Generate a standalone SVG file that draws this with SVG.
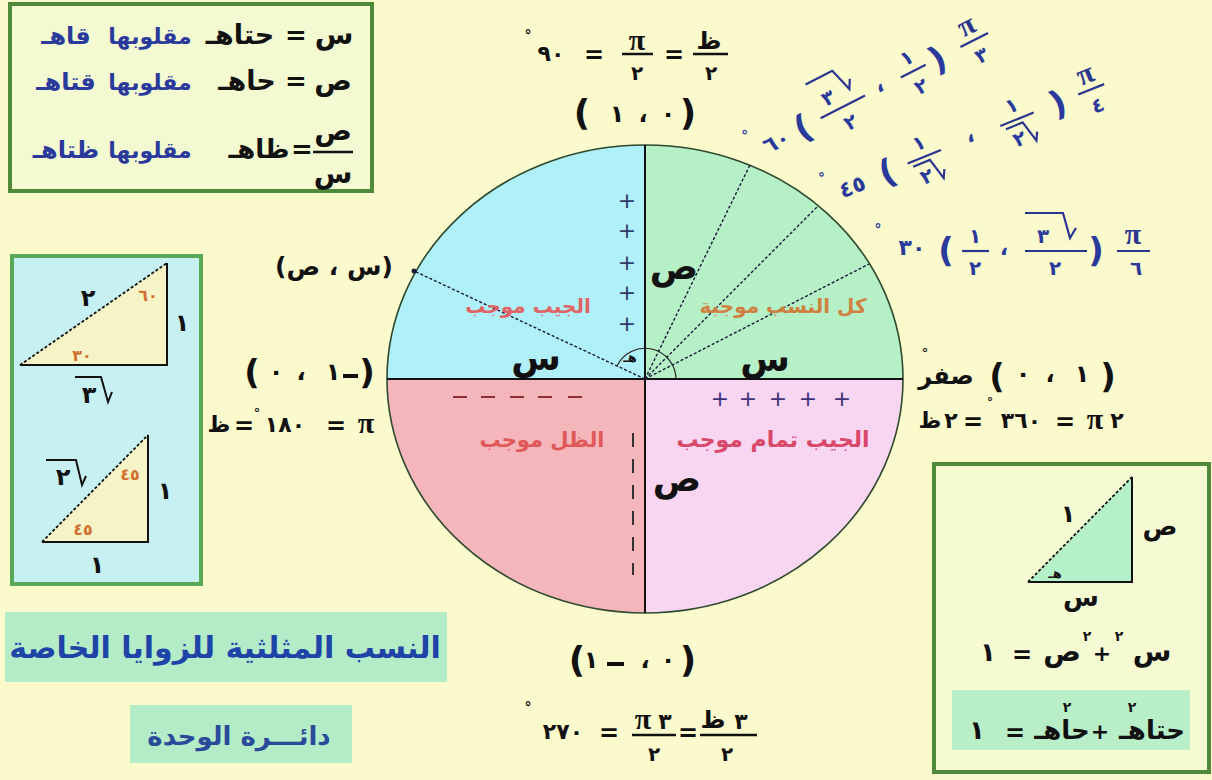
<svg xmlns="http://www.w3.org/2000/svg" width="1212" height="780" viewBox="0 0 1212 780">
<style>
.t{font-family:"DejaVu Sans",sans-serif;font-weight:bold;text-anchor:middle;fill:#111}
.b{fill:#2a3a9c}
.o{unicode-bidi:bidi-override;direction:ltr}
.pi{font-family:"Liberation Serif",serif;font-weight:bold;text-anchor:middle;fill:#111}
.ln{stroke:#111;stroke-width:2.5;fill:none}
.bl{stroke:#2a3590;stroke-width:2.2;fill:none}
.dot{stroke:#1a1a3a;stroke-width:1.4;stroke-dasharray:3 2;fill:none}
.leg{stroke:#111;stroke-width:2;fill:none}
</style>
<rect width="1212" height="780" fill="#fafacd"/>

<g id="unit-circle">
<path d="M645,379 L387,379 A258,234 0 0 1 645,145 Z" fill="#b0f0f8"/>
<path d="M645,379 L645,145 A258,234 0 0 1 903,379 Z" fill="#b6f0c6"/>
<path d="M645,379 L903,379 A258,234 0 0 1 645,613 Z" fill="#f8d6f2"/>
<path d="M645,379 L645,613 A258,234 0 0 1 387,379 Z" fill="#f4b6ba"/>
<ellipse cx="645" cy="379" rx="258" ry="234" fill="none" stroke="#2e4a2e" stroke-width="1.6"/>
</g>

<g id="connectors">
<line x1="387" y1="379" x2="903" y2="379" stroke="#111" stroke-width="2"/>
<line x1="645" y1="145" x2="645" y2="613" stroke="#111" stroke-width="2"/>
<line class="dot" x1="645" y1="379" x2="750" y2="165"/>
<line class="dot" x1="645" y1="379" x2="818" y2="206"/>
<line class="dot" x1="645" y1="379" x2="869" y2="264"/>
<line class="dot" x1="645" y1="379" x2="414" y2="271"/>
<circle cx="414" cy="271" r="2.5" fill="#1a1a3a"/>
<path d="M676,379 A31,31 0 0 0 617,366" fill="none" stroke="#222" stroke-width="1.2"/>
<line x1="633" y1="433" x2="633" y2="575" stroke="#333" stroke-width="2" stroke-dasharray="14 12"/>
</g>

<g id="quadrant-labels">
<text class="t" x="674" y="279" font-size="36">ص</text>
<text class="t" x="536" y="370" font-size="36">س</text>
<text class="t" x="765" y="371" font-size="36">س</text>
<text class="t" x="677" y="491" font-size="36">ص</text>
<text class="t" x="630" y="362" font-size="13">هـ</text>
<text class="t" x="528" y="313" font-size="20" style="fill:#e06464">الجيب موجب</text>
<text class="t" x="783" y="313" font-size="20" style="fill:#d08040">كل النسب موجبة</text>
<text class="t" x="542" y="447" font-size="21" style="fill:#e05858">الظل موجب</text>
<text class="t" x="773" y="447" font-size="22" style="fill:#d84868">الجيب تمام موجب</text>
<g font-family="DejaVu Sans" font-size="22" fill="#333a6a" text-anchor="middle">
<text x="627" y="208">+</text><text x="627" y="238">+</text><text x="627" y="270">+</text><text x="627" y="300">+</text><text x="627" y="331">+</text>
</g>
<g font-family="DejaVu Sans" font-size="22" fill="#40307a" text-anchor="middle">
<text x="720" y="406">+</text><text x="748" y="406">+</text><text x="778" y="406">+</text><text x="808" y="406">+</text><text x="842" y="406">+</text>
</g>
<g stroke="#8a3030" stroke-width="2">
<line x1="453" y1="397" x2="467" y2="397"/><line x1="481" y1="397" x2="495" y2="397"/><line x1="510" y1="397" x2="524" y2="397"/><line x1="538" y1="397" x2="552" y2="397"/><line x1="568" y1="397" x2="582" y2="397"/>
</g>
</g>

<g id="label-90">
<text class="t" x="528" y="40" font-size="14">°</text>
<text class="t" x="551" y="61" font-size="22">٩٠</text>
<text class="t" x="594" y="63" font-size="24">=</text>
<text class="pi" x="637" y="50" font-size="30">π</text>
<line class="ln" x1="622" y1="54" x2="653" y2="54"/>
<text class="t" x="637" y="80" font-size="20">٢</text>
<text class="t" x="674" y="63" font-size="24">=</text>
<text class="t" x="709" y="49" font-size="24">ظ</text>
<line class="ln" x1="693" y1="54" x2="728" y2="54"/>
<text class="t" x="711" y="80" font-size="20">٢</text>
<text class="t o" x="582" y="125" font-size="36">(</text>
<text class="t" x="617" y="122" font-size="24">١</text>
<text class="t" x="643" y="122" font-size="24">،</text>
<text class="t" x="668" y="122" font-size="24">٠</text>
<text class="t o" x="688" y="125" font-size="36">)</text>
</g>

<g id="label-270">
<text class="t o" x="577" y="672" font-size="36">(</text>
<text class="t" x="591" y="668" font-size="24">١</text>
<line x1="607" y1="664" x2="624" y2="664" stroke="#111" stroke-width="4"/>
<text class="t" x="645" y="668" font-size="24">،</text>
<text class="t" x="668" y="668" font-size="24">٠</text>
<text class="t o" x="688" y="672" font-size="36">)</text>
<text class="t" x="528" y="712" font-size="14">°</text>
<text class="t" x="563" y="739" font-size="22">٢٧٠</text>
<text class="t" x="609" y="741" font-size="24">=</text>
<text class="pi" x="643" y="729" font-size="30">π</text>
<text class="t" x="665" y="729" font-size="22">٣</text>
<line class="ln" x1="632" y1="735" x2="676" y2="735"/>
<text class="t" x="654" y="761" font-size="20">٢</text>
<text class="t" x="688" y="741" font-size="24">=</text>
<text class="t" x="713" y="728" font-size="24">ظ</text>
<text class="t" x="741" y="729" font-size="22">٣</text>
<line class="ln" x1="700" y1="735" x2="757" y2="735"/>
<text class="t" x="727" y="761" font-size="20">٢</text>
</g>

<g id="label-180">
<text class="t o" x="252" y="384" font-size="34">(</text>
<text class="t" x="276" y="380" font-size="24">٠</text>
<text class="t" x="301" y="380" font-size="24">،</text>
<text class="t" x="333" y="380" font-size="24">١</text>
<line x1="343" y1="376" x2="358" y2="376" stroke="#111" stroke-width="4"/>
<text class="t o" x="367" y="384" font-size="34">)</text>
<text class="t" x="219" y="432" font-size="22">ظ</text>
<text class="t" x="244" y="434" font-size="24">=</text>
<text class="t" x="257" y="417" font-size="13">°</text>
<text class="t" x="285" y="432" font-size="22">١٨٠</text>
<text class="t" x="336" y="434" font-size="24">=</text>
<text class="pi" x="366" y="433" font-size="30">π</text>
<text class="t" x="334" y="275" font-size="25">(س ، ص)</text>
</g>

<g id="label-0">
<text class="t" x="925" y="357" font-size="13">°</text>
<text class="t" x="946" y="384" font-size="24">صفر</text>
<text class="t o" x="997" y="388" font-size="34">(</text>
<text class="t" x="1023" y="382" font-size="24">٠</text>
<text class="t" x="1050" y="382" font-size="24">،</text>
<text class="t" x="1082" y="382" font-size="24">١</text>
<text class="t o" x="1108" y="388" font-size="34">)</text>
<text class="t" x="930" y="428" font-size="22">ظ</text>
<text class="t" x="951" y="428" font-size="22">٢</text>
<text class="t" x="973" y="430" font-size="24">=</text>
<text class="t" x="990" y="406" font-size="12">°</text>
<text class="t" x="1021" y="428" font-size="22">٣٦٠</text>
<text class="t" x="1065" y="430" font-size="24">=</text>
<text class="pi" x="1095" y="429" font-size="30">π</text>
<text class="t" x="1117" y="428" font-size="22">٢</text>
</g>

<g id="label-30">
<text class="t b" x="878" y="234" font-size="14">°</text>
<text class="t b" x="912" y="255" font-size="22">٣٠</text>
<text class="t b o" x="946" y="262" font-size="34">(</text>
<text class="t b" x="975" y="243" font-size="20">١</text>
<line class="bl" x1="962" y1="251" x2="989" y2="251"/>
<text class="t b" x="975" y="275" font-size="20">٢</text>
<text class="t b" x="1004" y="255" font-size="22">،</text>
<text class="t b" x="1043" y="243" font-size="20">٣</text>
<polyline class="bl" points="1025,213 1063,213 1070,238 1076,228"/>
<line class="bl" x1="1025" y1="251" x2="1087" y2="251"/>
<text class="t b" x="1055" y="275" font-size="20">٢</text>
<text class="t b o" x="1096" y="262" font-size="34">)</text>
<text class="pi" x="1133" y="244" font-size="30" style="fill:#2a3590">π</text>
<line class="bl" x1="1117" y1="251" x2="1150" y2="251"/>
<text class="t b" x="1136" y="275" font-size="20">٦</text>
</g>

<g id="label-60" transform="translate(776,141) rotate(-27)">
<text class="t b" x="-24" y="-14" font-size="14">°</text>
<text class="t b" x="0" y="8" font-size="22">٦٠</text>
<text class="t b o" x="30" y="12" font-size="34">(</text>
<text class="t b" x="66" y="-8" font-size="20">٣</text>
<polyline class="bl" points="52,-37 82,-37 89,-13 94,-22"/>
<line class="bl" x1="50" y1="0" x2="100" y2="0"/>
<text class="t b" x="75" y="24" font-size="20">٢</text>
<text class="t b" x="117" y="4" font-size="22">،</text>
<text class="t b" x="154" y="-8" font-size="20">١</text>
<line class="bl" x1="140" y1="0" x2="168" y2="0"/>
<text class="t b" x="154" y="24" font-size="20">٢</text>
<text class="t b o" x="181" y="12" font-size="34">)</text>
<text class="pi" x="222" y="-7" font-size="30" style="fill:#2a3590">π</text>
<line class="bl" x1="207" y1="0" x2="238" y2="0"/>
<text class="t b" x="222" y="24" font-size="20">٣</text>
</g>

<g id="label-45" transform="translate(852,186) rotate(-22)">
<text class="t b" x="-24" y="-14" font-size="14">°</text>
<text class="t b" x="0" y="8" font-size="22">٤٥</text>
<text class="t b o" x="38" y="12" font-size="34">(</text>
<text class="t b" x="78" y="-8" font-size="20">١</text>
<line class="bl" x1="60" y1="0" x2="96" y2="0"/>
<polyline class="bl" points="64,5 82,5 88,27 92,19"/>
<text class="t b" x="73" y="26" font-size="20">٢</text>
<text class="t b" x="128" y="4" font-size="22">،</text>
<text class="t b" x="178" y="-8" font-size="20">١</text>
<line class="bl" x1="160" y1="0" x2="196" y2="0"/>
<polyline class="bl" points="164,5 182,5 188,27 192,19"/>
<text class="t b" x="173" y="26" font-size="20">٢</text>
<text class="t b o" x="222" y="12" font-size="34">)</text>
<text class="pi" x="258" y="-7" font-size="30" style="fill:#2a3590">π</text>
<line class="bl" x1="244" y1="0" x2="272" y2="0"/>
<text class="t b" x="258" y="24" font-size="20">٤</text>
</g>

<g id="box-definitions">
<rect x="10" y="4" width="362" height="187" fill="#f3f9d0" stroke="#4e8a3a" stroke-width="4"/>
<text class="t" x="334" y="44" font-size="28">س</text>
<text class="t" x="296" y="44" font-size="26">=</text>
<text class="t" x="240" y="44" font-size="27">حتاهـ</text>
<text class="t b" x="150" y="44" font-size="22">مقلوبها</text>
<text class="t b" x="66" y="44" font-size="24">قاهـ</text>
<text class="t" x="333" y="90" font-size="28">ص</text>
<text class="t" x="296" y="90" font-size="26">=</text>
<text class="t" x="247" y="90" font-size="27">حاهـ</text>
<text class="t b" x="150" y="90" font-size="22">مقلوبها</text>
<text class="t b" x="66" y="90" font-size="24">قتاهـ</text>
<text class="t" x="333" y="140" font-size="28">ص</text>
<line class="ln" x1="313" y1="152" x2="353" y2="152"/>
<text class="t" x="333" y="183" font-size="28">س</text>
<text class="t" x="302" y="158" font-size="26">=</text>
<text class="t" x="259" y="158" font-size="26">ظاهـ</text>
<text class="t b" x="150" y="158" font-size="22">مقلوبها</text>
<text class="t b" x="66" y="158" font-size="24">ظتاهـ</text>
</g>

<g id="box-special-triangles">
<rect x="12" y="256" width="189" height="328" fill="#c6f0f2" stroke="#58a858" stroke-width="4"/>
<polygon points="20,365 167,263 167,365" fill="#f6f3c6"/>
<polyline class="leg" points="20,365 167,365 167,263"/>
<line class="dot" x1="20" y1="365" x2="167" y2="263" style="stroke:#111;stroke-width:1.8"/>
<text class="t" x="88" y="306" font-size="24">٢</text>
<text class="t" x="148" y="301" font-size="16" style="fill:#d07030">٦٠</text>
<text class="t" x="182" y="331" font-size="24">١</text>
<text class="t" x="82" y="361" font-size="16" style="fill:#d07030">٣٠</text>
<text class="t" x="89" y="403" font-size="24">٣</text>
<polyline class="leg" points="75,377 101,377 108,402 112,392"/>
<polygon points="42,542 148,435 148,542" fill="#f6f3c6"/>
<polyline class="leg" points="42,542 148,542 148,435"/>
<line class="dot" x1="42" y1="542" x2="148" y2="435" style="stroke:#111;stroke-width:1.8"/>
<text class="t" x="63" y="485" font-size="24">٢</text>
<polyline class="leg" points="46,460 76,460 82,485 86,476"/>
<text class="t" x="130" y="480" font-size="16" style="fill:#d07030">٤٥</text>
<text class="t" x="165" y="499" font-size="24">١</text>
<text class="t" x="83" y="535" font-size="16" style="fill:#d07030">٤٥</text>
<text class="t" x="97" y="573" font-size="24">١</text>
</g>

<g id="box-identity">
<rect x="934" y="464" width="275" height="308" fill="#f5fad2" stroke="#4e8a3a" stroke-width="4"/>
<polygon points="1028,582 1132,477 1132,582" fill="#b4f0c8"/>
<polyline class="leg" points="1028,582 1132,582 1132,477"/>
<line class="dot" x1="1028" y1="582" x2="1132" y2="477" style="stroke:#111;stroke-width:1.8"/>
<text class="t" x="1068" y="522" font-size="24">١</text>
<text class="t" x="1160" y="535" font-size="26">ص</text>
<text class="t" x="1055" y="578" font-size="13">هـ</text>
<text class="t" x="1081" y="606" font-size="26">س</text>
<text class="t" x="988" y="661" font-size="26">١</text>
<text class="t" x="1022" y="663" font-size="24">=</text>
<text class="t" x="1062" y="661" font-size="28">ص</text>
<text class="t" x="1087" y="641" font-size="14">٢</text>
<text class="t" x="1102" y="661" font-size="22">+</text>
<text class="t" x="1119" y="641" font-size="14">٢</text>
<text class="t" x="1152" y="661" font-size="28">س</text>
<rect x="952" y="690" width="238" height="60" fill="#b8eec8"/>
<text class="t" x="977" y="739" font-size="26">١</text>
<text class="t" x="1015" y="741" font-size="24">=</text>
<text class="t" x="1062" y="739" font-size="26">حاهـ</text>
<text class="t" x="1067" y="712" font-size="14">٢</text>
<text class="t" x="1100" y="739" font-size="22">+</text>
<text class="t" x="1152" y="739" font-size="26">حتاهـ</text>
<text class="t" x="1132" y="712" font-size="14">٢</text>
</g>

<g id="title">
<rect x="5" y="612" width="442" height="70" fill="#b4ecc8"/>
<text class="t" x="225" y="658" font-size="30" style="fill:#1f44a8">النسب المثلثية للزوايا الخاصة</text>
<rect x="130" y="705" width="222" height="58" fill="#b4ecc8"/>
<text class="t" x="239" y="745" font-size="26" style="fill:#2a4a9a">دائـــرة الوحدة</text>
</g>
</svg>
